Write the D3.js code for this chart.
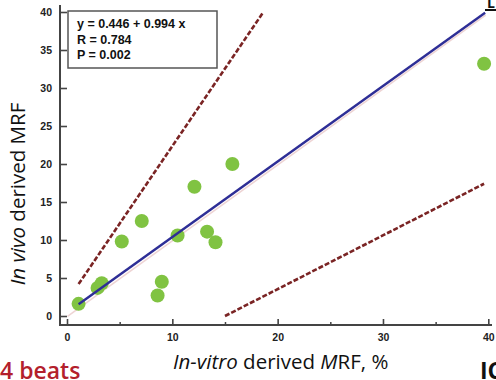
<!DOCTYPE html>
<html>
<head>
<meta charset="utf-8">
<script src="https://cdn.jsdelivr.net/npm/d3@7"></script>
<style>
  body { margin: 0; background: #fff; }
  svg { display: block; }
</style>
</head>
<body>
<div id="chart"></div>
<script>
// in-vitro vs in-vivo MRF values
const invitro = [1.1, 2.9, 3.3, 8.6, 9.0, 5.2, 7.1, 10.5, 12.1, 13.3, 14.1, 15.7, 39.6];
const invivo  = [1.6, 3.7, 4.3, 2.7, 4.5, 9.8, 12.5, 10.6, 17.0, 11.1, 9.7, 20.0, 33.2];

const xTicks = [0, 10, 20, 30, 40];
const xMinor = [5, 15, 25, 35];
const yTicks = [0, 5, 10, 15, 20, 25, 30, 35, 40];

// regression fit and the two dashed limit lines (endpoints)
const fitX = [1.1, 39.7];
const upperX = [1.1, 18.6], upperY = [4.2, 39.9];
const lowerX = [15.0, 39.6], lowerY = [0, 17.4];
const statLines = ["y = 0.446 + 0.994 x", "R = 0.784", "P = 0.002"];

const width = 496, height = 380;

const svg = d3.select("#chart").append("svg")
    .attr("width", width)
    .attr("height", height);

const x = d3.scaleLinear().domain([0, 40]).range([67, 488.3]);
const y = d3.scaleLinear().domain([0, 40]).range([316, 12]);

const axisColor = "#444";

// axis lines
svg.append("line")
    .attr("x1", 60).attr("x2", 60)
    .attr("y1", 5).attr("y2", 325)
    .attr("stroke", axisColor).attr("stroke-width", 2);
svg.append("line")
    .attr("x1", 59).attr("x2", 492)
    .attr("y1", 325).attr("y2", 325)
    .attr("stroke", axisColor).attr("stroke-width", 2);

const yAxis = svg.append("g")
    .attr("transform", "translate(60,0)")
    .call(d3.axisLeft(y).tickValues(yTicks).tickSize(-7).tickPadding(8));

const xAxis = svg.append("g")
    .attr("transform", "translate(0,325)")
    .call(d3.axisBottom(x).tickValues(xTicks).tickSize(-6).tickPadding(9));

svg.append("g")
    .attr("transform", "translate(0,325)")
    .call(d3.axisBottom(x).tickValues(xMinor).tickSize(-3).tickFormat(""))
    .call(g => g.select(".domain").remove())
    .selectAll("line").attr("stroke", axisColor).attr("stroke-width", 1.5);

[yAxis, xAxis].forEach(g => {
    g.select(".domain").remove();
    g.selectAll("line").attr("stroke", axisColor).attr("stroke-width", 1.6);
    g.selectAll("text")
        .attr("fill", "#222")
        .style("font-family", "Liberation Sans, Arial, sans-serif")
        .style("font-size", "10.5px")
        .style("font-weight", "bold");
});

// stats box
svg.append("rect")
    .attr("x", 68).attr("y", 11)
    .attr("width", 149).attr("height", 57)
    .attr("fill", "#fff")
    .attr("stroke", "#555").attr("stroke-width", 1.5);

svg.append("g").selectAll("text")
    .data(statLines)
    .join("text")
    .attr("x", 77)
    .attr("y", (d, i) => 28 + i * 15.5)
    .attr("fill", "#111")
    .style("font-family", "Liberation Sans, Arial, sans-serif")
    .style("font-size", "12.5px")
    .style("font-weight", "bold")
    .text(d => d);

// dashed limit lines
const line = d3.line().x(d => x(d[0])).y(d => y(d[1]));
[[upperX, upperY], [lowerX, lowerY]].forEach(([xs, ys]) => {
    svg.append("path")
        .datum(xs.map((v, i) => [v, ys[i]]))
        .attr("fill", "none")
        .attr("stroke", "#7a2424")
        .attr("stroke-width", 2.6)
        .attr("stroke-dasharray", "5,2")
        .attr("d", line);
});

const fit = v => 0.446 + 0.994 * v;

// faint shadow under the fit line
svg.append("path")
    .datum([[0, fit(0) - 0.4], [fitX[1], fit(fitX[1]) - 0.2]])
    .attr("fill", "none")
    .attr("stroke", "#eed4d4")
    .attr("stroke-width", 1.5)
    .attr("transform", "translate(0.5,0.8)")
    .attr("d", line);

// points
svg.append("g").selectAll("circle")
    .data(invitro.map((v, i) => [v, invivo[i]]))
    .join("circle")
    .attr("cx", d => x(d[0]))
    .attr("cy", d => y(d[1]))
    .attr("r", 7)
    .attr("fill", "#80c342");

// regression line
svg.append("path")
    .datum(fitX.map(v => [v, fit(v)]))
    .attr("fill", "none")
    .attr("stroke", "#2e2e96")
    .attr("stroke-width", 2.4)
    .attr("d", line);

// axis titles
const titleFont = "'Open Sans', 'Noto Sans', sans-serif";
const yt = svg.append("text")
    .attr("transform", "translate(25,194) rotate(-90)")
    .attr("text-anchor", "middle")
    .attr("fill", "#111")
    .style("font-family", titleFont)
    .style("font-size", "20.5px");
yt.append("tspan").style("font-style", "italic").text("In vivo");
yt.append("tspan").text(" derived MRF");

const xt = svg.append("text")
    .attr("x", 173).attr("y", 369)
    .attr("fill", "#111")
    .style("font-family", titleFont)
    .style("font-size", "20.5px");
xt.append("tspan").style("font-style", "italic").text("In-vitro");
xt.append("tspan").text(" derived ");
xt.append("tspan").style("font-style", "italic").text("M");
xt.append("tspan").text("RF, %");

// cropped neighbouring panel fragments
svg.append("text")
    .attr("x", 0).attr("y", 379)
    .attr("fill", "#b3202c")
    .style("font-family", titleFont)
    .style("font-size", "23px")
    .style("font-weight", "600")
    .text("4 beats");

svg.append("text")
    .attr("x", 480).attr("y", 379)
    .attr("fill", "#111")
    .style("font-family", titleFont)
    .style("font-size", "23px")
    .style("font-weight", "bold")
    .text("IC");

svg.append("text")
    .attr("x", 487).attr("y", 8)
    .attr("fill", "#111")
    .style("font-family", titleFont)
    .style("font-size", "14px")
    .style("font-weight", "bold")
    .text("L");
svg.append("line")
    .attr("x1", 485).attr("x2", 496)
    .attr("y1", 10).attr("y2", 10)
    .attr("stroke", "#111").attr("stroke-width", 2);
</script>
</body>
</html>
